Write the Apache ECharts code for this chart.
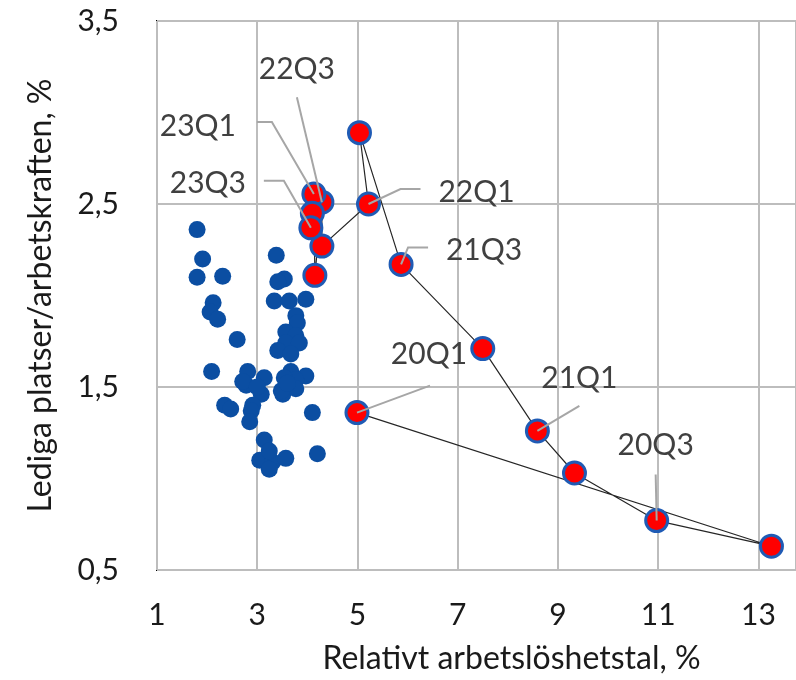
<!DOCTYPE html>
<html>
<head>
<meta charset="utf-8">
<script src="https://cdn.jsdelivr.net/npm/echarts@6/dist/echarts.min.js"></script>
<style>
html, body { margin: 0; padding: 0; background: #fff; }
#main { width: 796px; height: 680px; }
</style>
</head>
<body>
<div id="main"></div>
<script>
// historical quarters (blue cloud)
var histX = [1.80, 1.91, 1.80, 2.31, 2.12, 2.06, 2.21, 2.60, 2.09, 2.35, 2.47, 2.81, 2.78, 2.71, 3.14, 3.08, 2.91, 2.88, 2.85,
	3.38, 3.54, 3.41, 3.34, 3.64, 3.97, 3.77, 3.80, 3.57, 3.77, 3.57, 3.84, 3.41, 3.67, 3.67, 3.97, 3.77, 3.54, 3.51, 3.77, 3.48,
	4.10, 3.14, 3.05, 3.31, 3.57, 4.20, 3.24, 3.24, 3.00, 3.60];
var histY = [2.36, 2.20, 2.10, 2.105, 1.96, 1.91, 1.87, 1.76, 1.585, 1.40, 1.38, 1.585, 1.51, 1.53, 1.55, 1.46, 1.40, 1.37, 1.31,
	2.22, 2.09, 2.075, 1.97, 1.97, 1.98, 1.89, 1.85, 1.80, 1.78, 1.74, 1.74, 1.70, 1.68, 1.585, 1.56, 1.54, 1.55, 1.46, 1.49, 1.48,
	1.36, 1.21, 1.10, 1.09, 1.11, 1.135, 1.15, 1.05, 1.50, 1.52];

// 2020Q1 - 2023Q3 (red path)
var quarters = ['20Q1', '20Q2', '20Q3', '20Q4', '21Q1', '21Q2', '21Q3', '21Q4', '22Q1', '22Q2', '22Q3', '22Q4', '23Q1', '23Q2', '23Q3'];
var unempX = [4.99, 13.26, 10.97, 9.33, 8.59, 7.50, 5.87, 5.04, 5.22, 4.29, 4.29, 4.15, 4.13, 4.10, 4.07];
var vacY = [1.36, 0.63, 0.77, 1.03, 1.26, 1.71, 2.17, 2.89, 2.50, 2.27, 2.51, 2.11, 2.555, 2.45, 2.37];

// axis ticks
var xTicks = [1, 3, 5, 7, 9, 11, 13];
var yTicks = [0.5, 1.5, 2.5, 3.5];

// label placement (pixels, relative to marker centre): text centre + leader polyline
var labelPos = {
	'20Q1': { text: [72, -58], line: [[73, -27], [0, 0]] },
	'20Q3': { text: [-1, -75], line: [[-1, -46], [0, 0]] },
	'21Q1': { text: [42, -53], line: [[42, -25], [0, 0]] },
	'21Q3': { text: [83, -14], line: [[27, -17], [7, -17], [0, 0]] },
	'22Q1': { text: [108, -12], line: [[52, -15], [32, -15], [0, 0]] },
	'22Q3': { text: [-25, -133], line: [[-25, -105], [0, 0]] },
	'23Q1': { text: [-116, -68], line: [[-57, -72], [-42, -72], [0, 0]] },
	'23Q3': { text: [-103, -44], line: [[-47, -47], [-27, -47], [0, 0]] }
};

var FONT = 'Lato';

function zip(xs, ys) {
	var out = [];
	for (var i = 0; i < xs.length; i++) {
		out.push([xs[i], ys[i]]);
	}
	return out;
}

/**
 * data labels with leader lines (excel style)
 */
function renderLabel(params, api) {
	var q = quarters[api.value(2)];
	var p = labelPos[q];
	var c = api.coord([api.value(0), api.value(1)]);
	var pts = p.line.map(function(pt) {
		return [c[0] + pt[0], c[1] + pt[1]];
	});
	return {
		type: 'group',
		children: [{
			type: 'polyline',
			shape: { points: pts },
			style: { stroke: '#a6a6a6', lineWidth: 2, fill: null }
		},
		{
			type: 'text',
			style: {
				text: q,
				x: c[0] + p.text[0],
				y: c[1] + p.text[1],
				align: 'center',
				verticalAlign: 'middle',
				fontFamily: FONT,
				fontSize: 30,
				fill: '#404040'
			}
		}]
	};
}

function initChart() {
	var myChart = echarts.init(document.getElementById('main'), null, { renderer: 'canvas' });

	var labelData = [];
	quarters.forEach(function(q, i) {
		if (labelPos[q]) {
			labelData.push([unempX[i], vacY[i], i]);
		}
	});

	var option = {
		backgroundColor: '#ffffff',
		animation: false,
		textStyle: { fontFamily: FONT },
		grid: {
			left: 157,
			right: -4,
			top: 21,
			bottom: 107,
			show: true,
			borderColor: '#000000',
			borderWidth: 2,
			backgroundColor: 'transparent'
		},
		xAxis: {
			type: 'value',
			min: xTicks[0],
			max: 13.75,
			interval: xTicks[1] - xTicks[0],
			name: 'Relativt arbetslöshetstal, %',
			nameLocation: 'middle',
			nameGap: 73,
			nameTextStyle: { fontFamily: FONT, fontSize: 32, color: '#1a1a1a', padding: [0, 0, 0, 70] },
			axisLine: { show: false },
			axisTick: { show: false },
			axisLabel: {
				fontFamily: FONT, fontSize: 30, color: '#1a1a1a', margin: 30,
				showMaxLabel: false,
				formatter: function(v) {
					return xTicks.indexOf(v) >= 0 ? String(v) : '';
				}
			},
			splitLine: { show: true, lineStyle: { color: '#bdbdbd', width: 2 } }
		},
		yAxis: {
			type: 'value',
			min: yTicks[0],
			max: yTicks[yTicks.length - 1],
			interval: yTicks[1] - yTicks[0],
			name: 'Lediga platser/arbetskraften, %',
			nameLocation: 'middle',
			nameGap: 100,
			nameTextStyle: { fontFamily: FONT, fontSize: 32, color: '#1a1a1a' },
			axisLine: { show: false },
			axisTick: { show: false },
			axisLabel: {
				fontFamily: FONT, fontSize: 30, color: '#1a1a1a', margin: 38,
				formatter: function(v) {
					return v.toFixed(1).replace('.', ',');
				}
			},
			splitLine: { show: true, lineStyle: { color: '#bdbdbd', width: 2 } }
		},
		series: [{
			name: 'historik',
			type: 'scatter',
			symbolSize: 17,
			itemStyle: { color: '#0b4ea2', opacity: 1 },
			data: zip(histX, histY),
			z: 2
		},
		{
			name: 'bana',
			type: 'line',
			symbol: 'none',
			lineStyle: { color: '#262626', width: 1.2 },
			data: zip(unempX, vacY),
			z: 3
		},
		{
			name: 'kvartal',
			type: 'scatter',
			symbolSize: 22,
			itemStyle: { color: '#ff0000', borderColor: '#1f5bb5', borderWidth: 3, opacity: 1 },
			data: zip(unempX, vacY),
			z: 4
		},
		{
			name: 'etiketter',
			type: 'custom',
			renderItem: renderLabel,
			data: labelData,
			silent: true,
			z: 5
		}]
	};

	myChart.setOption(option);
}

initChart();
</script>
</body>
</html>
